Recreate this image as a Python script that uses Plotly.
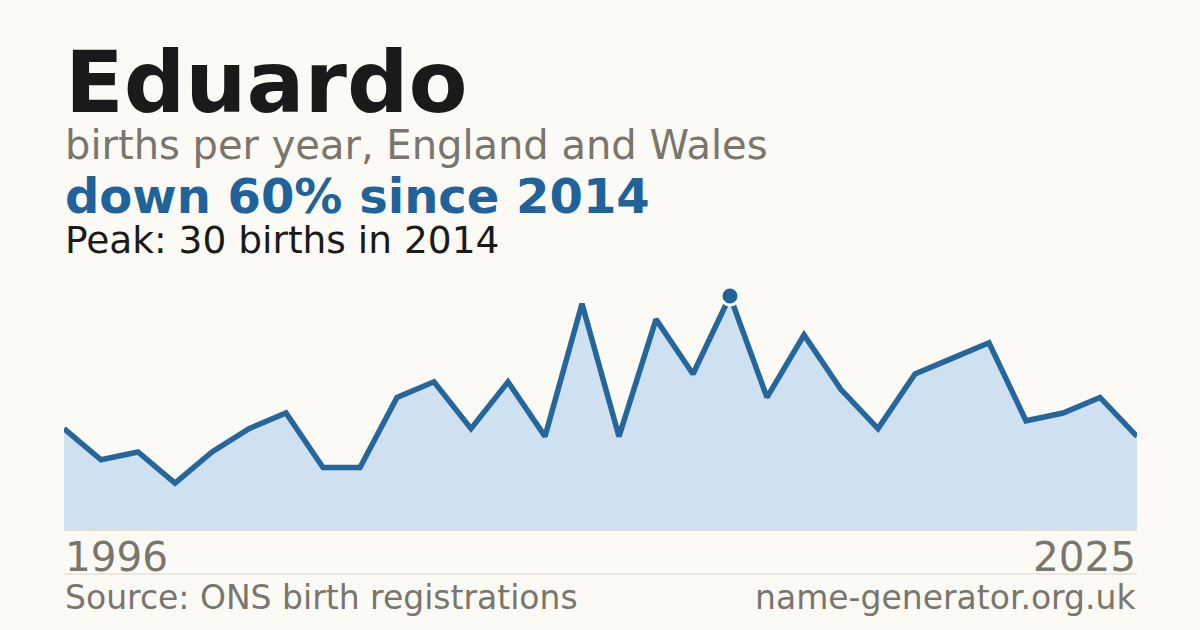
import plotly.graph_objects as go

years = list(range(1996, 2026))
births = [13, 9, 10, 6, 10, 13, 15, 8, 8, 17, 19, 13, 19, 12, 29, 12, 27, 20, 30, 17,
          25, 18, 13, 20, 22, 24, 14, 15, 17, 12]
peak_year = 2014
peak_value = 30

title_text = "Eduardo"
subtitle_text = "births per year, England and Wales"
headline_text = "down 60% since 2014"
peak_text = "Peak: 30 births in 2014"
source_text = "Source: ONS birth registrations"
site_text = "name-generator.org.uk"
start_label = "1996"
end_label = "2025"

BG = "#fbfaf5"
BLUE = "#20629a"
LINE = "#25669c"
FILL = "#cfe0f0"
GREY = "#7a756d"
DARK = "#1a1a1a"
FONT = "DejaVu Sans"

W, H = 1200, 630
L, R, T, B = 64, 63, 296, 100
plot_h = H - T - B


def py(pix):
    return (H - B - pix) / plot_h


fig = go.Figure()
fig.add_trace(go.Scatter(
    x=years, y=births, mode="lines", fill="tozeroy", fillcolor=FILL,
    line=dict(color=LINE, width=5.5), hoverinfo="skip", showlegend=False,
))
fig.add_trace(go.Scatter(
    x=[peak_year], y=[peak_value], mode="markers", cliponaxis=False,
    marker=dict(size=18, color=BLUE, line=dict(color=BG, width=3)),
    hoverinfo="skip", showlegend=False,
))


def ann(text, x, xanchor, baseline, size, color, bold=False):
    ytop = baseline - 0.928 * size - 2
    fig.add_annotation(
        text=f"<b>{text}</b>" if bold else text,
        xref="paper", yref="paper", x=x, y=py(ytop),
        xanchor=xanchor, yanchor="top", showarrow=False,
        font=dict(family=FONT, size=size, color=color),
        borderpad=0,
    )


ann(title_text, 0, "left", 113, 86, DARK, bold=True)
ann(subtitle_text, 0, "left", 160, 40, GREY)
ann(headline_text, 0, "left", 214, 48, BLUE, bold=True)
ann(peak_text, 0, "left", 254, 37.5, DARK)
ann(start_label, 0, "left", 572, 40.5, GREY)
ann(end_label, 1, "right", 572, 40.5, GREY)
ann(source_text, 0, "left", 610, 33, GREY)
ann(site_text, 1, "right", 610, 33, GREY)

fig.add_shape(type="line", xref="paper", yref="paper", x0=0, x1=1,
              y0=py(574), y1=py(574), line=dict(color="#d9d5cd", width=1))

fig.update_layout(
    width=W, height=H, margin=dict(l=L, r=R, t=T, b=B),
    paper_bgcolor=BG, plot_bgcolor=BG,
    xaxis=dict(range=[years[0], years[-1]], showgrid=False, zeroline=False,
               showticklabels=False, showline=True, linecolor="#e6ddd0", linewidth=1,
               fixedrange=True),
    yaxis=dict(range=[0, peak_value], showgrid=False, zeroline=False,
               showticklabels=False, showline=False, fixedrange=True),
    font=dict(family=FONT),
)

fig.write_html(
    "out.html",
    config={"displayModeBar": False},
    post_script="document.body.style.margin='0';document.body.style.background='" + BG + "';",
)
